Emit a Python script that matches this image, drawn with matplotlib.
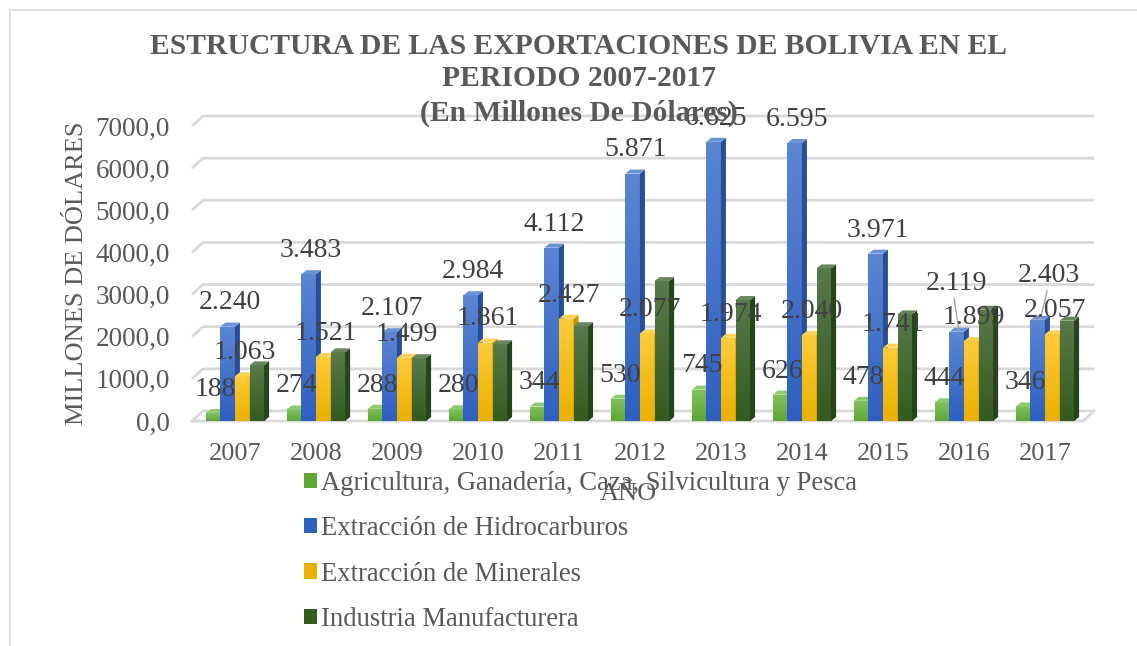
import matplotlib
matplotlib.use('Agg')
import matplotlib.pyplot as plt
from matplotlib.patches import Polygon, Rectangle, Patch
from matplotlib.colors import LinearSegmentedColormap
import numpy as np

plt.rcParams['font.family'] = ['Liberation Serif', 'DejaVu Serif']

# ---------------- data ----------------
years = ['2007', '2008', '2009', '2010', '2011', '2012', '2013', '2014', '2015', '2016', '2017']
series_names = ['Agricultura, Ganadería, Caza, Silvicultura y Pesca',
                'Extracción de Hidrocarburos',
                'Extracción de Minerales',
                'Industria Manufacturera']
agricultura = [188, 274, 288, 280, 344, 530, 745, 626, 478, 444, 346]
hidrocarburos = [2240, 3483, 2107, 2984, 4112, 5871, 6625, 6595, 3971, 2119, 2403]
minerales = [1063, 1521, 1499, 1861, 2427, 2077, 1974, 2040, 1741, 1899, 2057]
industria = [1320, 1630, 1490, 1820, 2250, 3320, 2870, 3620, 2530, 2640, 2380]
y_ticks = [0, 1000, 2000, 3000, 4000, 5000, 6000, 7000]

title_lines = ['ESTRUCTURA DE LAS EXPORTACIONES DE BOLIVIA EN EL',
               'PERIODO 2007-2017',
               '(En Millones De Dólares)']
y_title = 'MILLONES DE DÓLARES'
x_title = 'AÑO'

# ---------------- styles ----------------
front_top = ['#82C25E', '#5A86D2', '#FFCB3A', '#58794A']
front_bot = ['#5FA635', '#2F60C0', '#EAB000', '#335C1E']
side_col = ['#4E8A2C', '#284E98', '#C79500', '#25441A']
top_col = ['#8FCB6C', '#6A92D8', '#FFD35A', '#66875A']
label_series = [0, 1, 2]          # series that carry data labels
special_offsets = {(1, 9): (-2, 35, 0.45), (1, 10): (6, 32, 0.5)}  # leader-line labels

TEXT = '#595959'
LABEL = '#404040'
GRID = '#D9D9D9'

W, H, DPI = 1137, 646, 100
fig = plt.figure(figsize=(W / DPI, H / DPI), dpi=DPI)
fig.patch.set_facecolor('white')

ax_left, ax_right, ax_top, ax_bottom = 192, 1083, 126, 421
ax = fig.add_axes([ax_left / W, 1 - ax_bottom / H,
                   (ax_right - ax_left) / W, (ax_bottom - ax_top) / H])
xlim = (-0.53, 10.47)
ylim = (0, 7000)
px_x = (ax_right - ax_left) / (xlim[1] - xlim[0])
px_y = (ax_bottom - ax_top) / (ylim[1] - ylim[0])


def off(dxp, dyp):
    return dxp / px_x, dyp / px_y


for s in ax.spines.values():
    s.set_visible(False)
ax.patch.set_alpha(0)

# back wall gridlines + floor
wdx, wdy = off(11, 10)
for v in y_ticks:
    ax.plot([xlim[0], xlim[0] + wdx, xlim[1] + wdx], [v, v + wdy, v + wdy],
            color=GRID, lw=2.0, zorder=1, clip_on=False, solid_capstyle='butt')
ax.plot([xlim[0], xlim[1], xlim[1] + wdx], [0, 0, wdy], color=GRID, lw=2.0,
        zorder=1, clip_on=False)

# bars
series = [agricultura, hidrocarburos, minerales, industria]
w = 0.18
bdx, bdy = off(5, 4)
x = np.arange(len(years))
grad = np.linspace(1, 0, 64).reshape(-1, 1)
for k, vals in enumerate(series):
    cmap = LinearSegmentedColormap.from_list('g%d' % k, [front_bot[k], front_top[k]])
    xc = x + (k - 1.5) * w
    bars = ax.bar(xc, vals, width=w, color=front_bot[k], zorder=3 + k, linewidth=0)
    for i, (b, v) in enumerate(zip(bars, vals)):
        x0 = b.get_x()
        x1 = x0 + b.get_width()
        im = ax.imshow(grad, extent=[x0, x1, 0, v], aspect='auto', cmap=cmap,
                       vmin=0, vmax=1, zorder=3 + k + 0.01, interpolation='bilinear')
        im.set_clip_path(b)
        ax.add_patch(Polygon([(x1, 0), (x1, v), (x1 + bdx, v + bdy), (x1 + bdx, bdy)],
                             closed=True, facecolor=side_col[k], edgecolor='none',
                             zorder=3 + k + 0.02))
        ax.add_patch(Polygon([(x0, v), (x1, v), (x1 + bdx, v + bdy), (x0 + bdx, v + bdy)],
                             closed=True, facecolor=top_col[k], edgecolor='none',
                             zorder=3 + k + 0.03))
        if k in label_series:
            txt = f'{v:,}'.replace(',', '.')
            if (k, i) in special_offsets:
                ox, oy, rx = special_offsets[(k, i)]
                ax.annotate(txt, xy=(b.get_x() + w / 2 + bdx / 2, v), xytext=(ox, oy),
                            textcoords='offset points', ha='center', va='center',
                            fontsize=20, color=LABEL, zorder=20, annotation_clip=False,
                            arrowprops=dict(arrowstyle='-', color='#A6A6A6', lw=1.0,
                                            shrinkA=0, shrinkB=0, relpos=(rx, 0.1)))
            else:
                ax.annotate(txt, xy=(b.get_x() + w / 2 + bdx / 2, v), xytext=(0, 17),
                            textcoords='offset points', ha='center', va='center',
                            fontsize=20, color=LABEL, zorder=20, annotation_clip=False)

ax.set_xlim(xlim)
ax.set_ylim(ylim)
ax.set_xticks(x, years)
ax.set_yticks(y_ticks, [f'{v:.1f}'.replace('.', ',') for v in y_ticks])
ax.tick_params(axis='x', length=0, pad=16, labelsize=19, labelcolor=TEXT)
ax.tick_params(axis='y', length=0, pad=16, labelsize=19.5, labelcolor=TEXT)
ax.set_ylabel(y_title, fontsize=19, color=TEXT)
ax.yaxis.set_label_coords((88 - ax_left) / (ax_right - ax_left), 0.5)

fig.text(628 / W, 1 - 494 / H, x_title, ha='center', va='center', fontsize=19, color=TEXT)

# title
for line, ypx in zip(title_lines, [47, 79, 113]):
    fig.text(579 / W, 1 - ypx / H, line, ha='center', va='center', fontsize=21.3,
             fontweight='bold', color=TEXT)

# legend
handles = [Patch(facecolor=front_bot[k], edgecolor='none') for k in range(4)]
fig.legend(handles, series_names, loc='upper left', bbox_to_anchor=(304 / W, 1 - 471 / H),
           frameon=False, fontsize=19.2, labelcolor=TEXT, handlelength=0.5,
           handleheight=0.5, handletextpad=0.15, labelspacing=0.76, borderpad=0,
           borderaxespad=0)

# outer border
fig.add_artist(Rectangle((10 / W, -0.1), 1.2, 1.1 - 10 / H, transform=fig.transFigure,
                         fill=False, edgecolor=GRID, lw=1.2))

fig.savefig('out.png', dpi=DPI, facecolor='white')
